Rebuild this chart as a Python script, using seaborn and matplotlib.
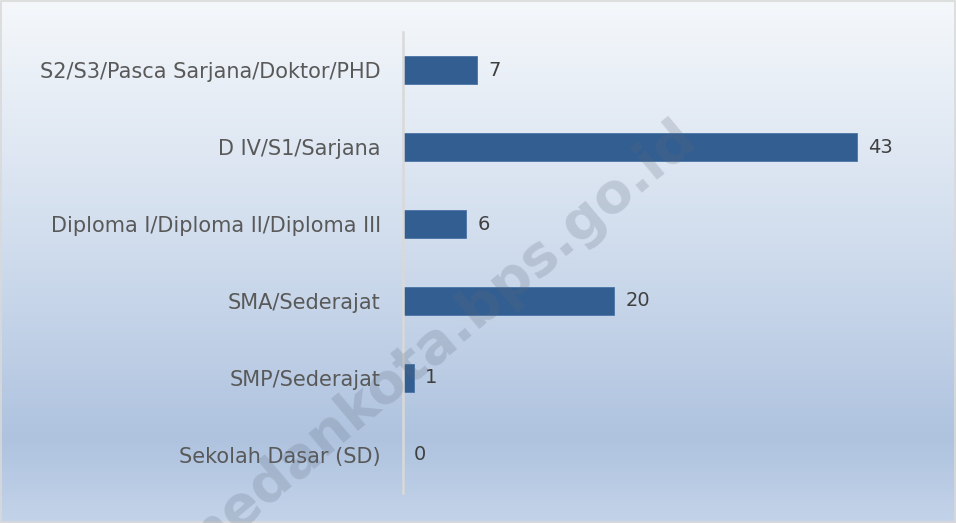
import numpy as np
import pandas as pd
import matplotlib
matplotlib.use("Agg")
import matplotlib.pyplot as plt
from matplotlib.colors import LinearSegmentedColormap
from matplotlib.patches import Rectangle
import seaborn as sns

# data, top to bottom as shown
categories = [
    "S2/S3/Pasca Sarjana/Doktor/PHD",
    "D IV/S1/Sarjana",
    "Diploma I/Diploma II/Diploma III",
    "SMA/Sederajat",
    "SMP/Sederajat",
    "Sekolah Dasar (SD)",
]
values = [7, 43, 6, 20, 1, 0]

df = pd.DataFrame({"pendidikan": categories, "jumlah": values})

sns.set_style("white")
plt.rcParams["font.family"] = ["DejaVu Sans"]

fig = plt.figure(figsize=(9.56, 5.23), dpi=100)

# gradient background over the whole figure
bg = fig.add_axes([0, 0, 1, 1], zorder=-1)
grad_cmap = LinearSegmentedColormap.from_list(
    "bg", [(0.0, "#f5f8fb"), (0.45, "#d2deee"), (0.84, "#afc3df"), (1.0, "#c3d3e9")]
)
bg.imshow(np.linspace(0, 1, 256).reshape(-1, 1), aspect="auto", cmap=grad_cmap,
          extent=[0, 1, 0, 1], origin="upper")
bg.set_xlim(0, 1)
bg.set_ylim(0, 1)
bg.axis("off")
bg.add_patch(Rectangle((0.001, 0.001), 0.998, 0.997, fill=False,
                       edgecolor="#d9d9d9", linewidth=1.2, transform=bg.transAxes))

# watermark (its first letter runs off the bottom edge, as in the source)
fig.text(0.455, 0.345, "medankota.bps.go.id", fontsize=40, fontweight="bold",
         color="#5f6b7c", alpha=0.22, rotation=40, ha="center", va="center",
         rotation_mode="anchor")

ax = fig.add_axes([0.4215, 0.0574, 0.53, 0.8815])
ax.patch.set_alpha(0)
sns.barplot(data=df, y="pendidikan", x="jumlah", orient="h", color="#335e91",
            saturation=1, width=0.365, ax=ax, edgecolor="#4a74a6", linewidth=0.6)

ax.set_xlim(0, 48)
ax.set_ylim(5.5, -0.5)
ax.set_xlabel("")
ax.set_ylabel("")
ax.set_xticks([])
for s in ["top", "right", "bottom"]:
    ax.spines[s].set_visible(False)
ax.spines["left"].set_color("#d9d9d9")
ax.spines["left"].set_linewidth(1.8)
ax.tick_params(axis="y", length=0, pad=16, labelsize=15, labelcolor="#595959")

ax.bar_label(ax.containers[0], labels=[str(v) for v in values], padding=8,
             fontsize=14, color="#404040")

fig.savefig("out.png", dpi=100)
